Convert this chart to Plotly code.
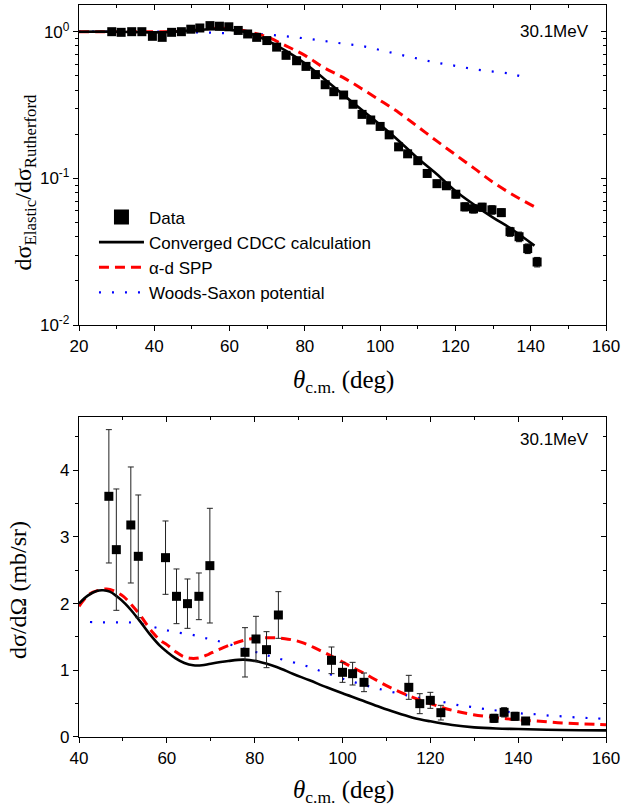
import plotly.graph_objects as go

# ---------------- top panel data ----------------
theta_top = [28.7, 31.2, 34.0, 36.7, 39.5, 42.1, 44.6, 47.2, 49.7, 52.1,
             54.8, 57.3, 59.8, 62.3, 64.8, 67.2, 69.9, 72.5, 75.0, 77.8,
             80.3, 82.8, 85.4, 87.7, 90.3, 92.8, 95.2, 97.5, 100.0, 102.4,
             104.9, 107.3, 110.0, 112.5, 115.1, 117.6, 120.1, 122.5, 124.8, 127.1,
             129.7, 132.2, 134.5, 136.9, 139.2, 141.7]
ratio_top = [1.00, 0.99, 1.00, 1.00, 0.93, 0.915, 0.99, 1.00, 1.04, 1.06,
             1.10, 1.09, 1.08, 1.02, 0.965, 0.915, 0.87, 0.785, 0.69, 0.634,
             0.58, 0.51, 0.435, 0.39, 0.37, 0.32, 0.273, 0.25, 0.226, 0.198,
             0.164, 0.147, 0.132, 0.108, 0.092, 0.089, 0.078, 0.064, 0.062, 0.0636,
             0.061, 0.0584, 0.0433, 0.040, 0.0332, 0.0269]
ratio_top_err = [0.02, 0.02, 0.02, 0.02, 0.02, 0.02, 0.02, 0.02, 0.02, 0.02,
                 0.02, 0.02, 0.02, 0.02, 0.02, 0.02, 0.02, 0.02, 0.02, 0.02,
                 0.017, 0.015, 0.013, 0.012, 0.011, 0.011, 0.01, 0.009, 0.009, 0.008,
                 0.007, 0.007, 0.006, 0.006, 0.005, 0.005, 0.0045, 0.004, 0.004, 0.004,
                 0.004, 0.0035, 0.003, 0.003, 0.0025, 0.002]

curve_top_theta = [20, 30, 40, 45, 50, 55, 60, 65, 70, 75, 80, 85, 90, 95,
                   100, 105, 110, 115, 120, 125, 130, 135, 141]
cdcc_top = [1.0, 1.0, 0.99, 1.0, 1.02, 1.04, 1.03, 0.98, 0.87, 0.74, 0.61, 0.48,
            0.375, 0.295, 0.232, 0.18, 0.137, 0.107, 0.082, 0.066, 0.054, 0.045, 0.0348]
spp_top = [1.0, 1.0, 1.0, 1.0, 1.02, 1.05, 1.05, 1.0, 0.92, 0.80, 0.69, 0.57,
           0.49, 0.41, 0.34, 0.28, 0.225, 0.18, 0.145, 0.117, 0.094, 0.078, 0.064]
ws_top_theta = [20, 30, 40, 45, 50, 55, 60, 65, 70, 75, 80, 85, 90, 95,
                100, 105, 110, 115, 120, 125, 130, 135, 139]
ws_top = [1.0, 1.0, 1.0, 1.0, 0.99, 0.985, 0.975, 0.965, 0.955, 0.93, 0.90, 0.865,
          0.83, 0.80, 0.75, 0.70, 0.655, 0.615, 0.585, 0.555, 0.535, 0.515, 0.48]

# ---------------- bottom panel data ----------------
theta_bot = [46.8, 48.5, 51.8, 53.5, 59.7, 62.2, 64.7, 67.3, 69.8, 77.8,
             80.3, 82.7, 85.4, 97.5, 100.0, 102.3, 104.9, 115.1, 117.6, 120.0,
             122.4, 134.5, 136.8, 139.3, 141.7]
xs_bot = [3.61, 2.81, 3.18, 2.71, 2.69, 2.11, 2.00, 2.11, 2.57, 1.27,
          1.47, 1.31, 1.83, 1.15, 0.97, 0.95, 0.82, 0.745, 0.50, 0.55,
          0.365, 0.28, 0.37, 0.31, 0.24]
xs_bot_err = [1.0, 0.91, 0.87, 0.92, 0.55, 0.41, 0.37, 0.35, 0.86, 0.37,
              0.34, 0.27, 0.35, 0.2, 0.15, 0.17, 0.14, 0.18, 0.15, 0.12,
              0.11, 0.06, 0.07, 0.06, 0.05]

cdcc_bot_theta = [40, 42, 44, 45.5, 47, 48.6, 50.5, 52.4, 54.3, 56.2, 58.4, 60,
                  62, 64, 66, 68, 70, 74, 77.5, 81, 85, 88.8, 92.5, 96.4, 100,
                  104, 108.5, 112, 116, 120, 125, 130, 135, 140, 150, 160]
cdcc_bot = [2.0, 2.12, 2.19, 2.2, 2.18, 2.11, 2.0, 1.86, 1.70, 1.535, 1.37, 1.28,
            1.18, 1.11, 1.075, 1.075, 1.10, 1.14, 1.16, 1.13, 1.05, 0.945, 0.85, 0.745, 0.655,
            0.56, 0.45, 0.37, 0.29, 0.235, 0.18, 0.145, 0.128, 0.12, 0.105, 0.10]
spp_bot_theta = [40, 42.5, 44.5, 46.3, 48, 50.1, 52, 53.9, 55.5, 56.9, 58.5, 60,
                 62, 63.7, 65.5, 67.6, 69.5, 71.4, 75.1, 78.9, 83.1, 86.9, 90.7, 94.5,
                 98.3, 102.1, 105.5, 110, 115, 120.7, 125, 129.8, 135, 139.7, 145,
                 150, 155, 160]
spp_bot = [1.96, 2.15, 2.2, 2.22, 2.19, 2.11, 1.98, 1.83, 1.68, 1.56, 1.45, 1.385,
           1.28, 1.21, 1.18, 1.19, 1.24, 1.30, 1.40, 1.47, 1.49, 1.475, 1.42, 1.31,
           1.185, 1.05, 0.935, 0.77, 0.62, 0.485, 0.40, 0.335, 0.29, 0.26, 0.235,
           0.21, 0.195, 0.185]
ws_bot_theta = [42.5, 45.4, 48.3, 51.2, 53.9, 56.9, 59.4, 62.2, 65.6, 68.3, 71, 74,
                77, 79.7, 82.3, 85, 88.8, 91.5, 94.1, 96.8, 100.2, 102.8, 105.5, 108.1,
                112.3, 117.6, 121, 126.6, 129.4, 132.4, 136, 141.2, 144.2, 147.2, 150,
                152.8, 155.9, 159]
ws_bot = [1.725, 1.72, 1.72, 1.72, 1.70, 1.65, 1.61, 1.57, 1.535, 1.49, 1.45, 1.395,
          1.335, 1.285, 1.235, 1.185, 1.12, 1.07, 1.01, 0.95, 0.87, 0.82, 0.77, 0.725,
          0.66, 0.585, 0.55, 0.475, 0.45, 0.42, 0.39, 0.35, 0.34, 0.32, 0.31,
          0.295, 0.285, 0.275]

top_yticks = [0.01, 0.1, 1]
top_yticktext = ["10<sup>-2</sup>", "10<sup>-1</sup>", "10<sup>0</sup>"]
legend_names = ["Data", "Converged CDCC calculation", "\u03b1-d SPP", "Woods-Saxon potential"]
energy_label = "30.1MeV"

# ---------------- figure ----------------
SANS = "Liberation Sans, Arial, sans-serif"
SERIF = "Liberation Serif, Times New Roman, serif"
RED = "#FF0000"
BLUE = "#0000FF"

black_line = dict(color="black", width=2.6)
red_line = dict(color=RED, width=3, dash="10px,6px")
blue_line = dict(color=BLUE, width=2.2, dash="2px,11px")

fig = go.Figure()

# top panel curves
fig.add_trace(go.Scatter(x=ws_top_theta, y=ws_top, mode="lines", line=blue_line,
                         line_shape="spline", showlegend=False, xaxis="x", yaxis="y"))
fig.add_trace(go.Scatter(x=curve_top_theta, y=spp_top, mode="lines", line=red_line,
                         line_shape="spline", showlegend=False, xaxis="x", yaxis="y"))
fig.add_trace(go.Scatter(x=curve_top_theta, y=cdcc_top, mode="lines", line=black_line,
                         line_shape="spline", showlegend=False, xaxis="x", yaxis="y"))
fig.add_trace(go.Scatter(x=theta_top, y=ratio_top, mode="markers",
                         marker=dict(symbol="square", size=9, color="black"),
                         error_y=dict(type="data", array=ratio_top_err, color="black",
                                      thickness=1, width=3),
                         showlegend=False, xaxis="x", yaxis="y"))

# legend-only entries
fig.add_trace(go.Scatter(x=[None], y=[None], mode="markers", name=legend_names[0],
                         marker=dict(symbol="square", size=15, color="black"),
                         xaxis="x", yaxis="y"))
fig.add_trace(go.Scatter(x=[None], y=[None], mode="lines", name=legend_names[1],
                         line=black_line, xaxis="x", yaxis="y"))
fig.add_trace(go.Scatter(x=[None], y=[None], mode="lines", name=legend_names[2],
                         line=red_line, xaxis="x", yaxis="y"))
fig.add_trace(go.Scatter(x=[None], y=[None], mode="lines", name=legend_names[3],
                         line=blue_line, xaxis="x", yaxis="y"))

# bottom panel curves
fig.add_trace(go.Scatter(x=ws_bot_theta, y=ws_bot, mode="lines", line=blue_line,
                         line_shape="spline", showlegend=False, xaxis="x2", yaxis="y2"))
fig.add_trace(go.Scatter(x=spp_bot_theta, y=spp_bot, mode="lines", line=red_line,
                         line_shape="spline", showlegend=False, xaxis="x2", yaxis="y2"))
fig.add_trace(go.Scatter(x=cdcc_bot_theta, y=cdcc_bot, mode="lines", line=black_line,
                         line_shape="spline", showlegend=False, xaxis="x2", yaxis="y2"))
fig.add_trace(go.Scatter(x=theta_bot, y=xs_bot, mode="markers",
                         marker=dict(symbol="square", size=9, color="black"),
                         error_y=dict(type="data", array=xs_bot_err, color="#222222",
                                      thickness=1, width=3),
                         showlegend=False, xaxis="x2", yaxis="y2"))

# dummy traces so mirrored (inside-tick) axes are drawn
for xa, ya in [("x3", "y"), ("x", "y3"), ("x4", "y2"), ("x2", "y4")]:
    fig.add_trace(go.Scatter(x=[None], y=[None], mode="markers", showlegend=False,
                             hoverinfo="skip", xaxis=xa, yaxis=ya))

TOP_DOM = [0.5628, 1.0]
BOT_DOM = [0.0, 0.4372]
tickfont = dict(family=SANS, size=17, color="black")
minor_log = [m * d for d in [0.01, 0.1, 1] for m in range(2, 10)]

base_ax = dict(showline=True, linecolor="black", linewidth=1.3, showgrid=False,
               zeroline=False, tickcolor="black", tickfont=tickfont)

fig.update_layout(
    width=624, height=809,
    margin=dict(l=79, r=18, t=5, b=72),
    paper_bgcolor="white", plot_bgcolor="white",
    font=dict(family=SANS, size=17, color="black"),
    xaxis=dict(**base_ax, domain=[0, 1], range=[20, 160], anchor="y",
               ticks="outside", ticklen=5, tickwidth=1.2, dtick=20, tick0=20,
               minor=dict(dtick=10, ticks="outside", ticklen=3, tickcolor="black")),
    yaxis=dict(**base_ax, domain=TOP_DOM, type="log", range=[-2, 0.182], anchor="x",
               ticks="outside", ticklen=5, tickwidth=1.2, tickmode="array",
               tickvals=top_yticks, ticktext=top_yticktext,
               minor=dict(tickmode="array", tickvals=minor_log, ticks="outside",
                          ticklen=3, tickcolor="black")),
    xaxis3=dict(showline=True, linecolor="black", linewidth=1.3, showgrid=False,
                zeroline=False, overlaying="x", side="top", anchor="y",
                range=[20, 160], ticks="inside", ticklen=5, tickcolor="black",
                dtick=20, tick0=20, showticklabels=False,
                minor=dict(dtick=10, ticks="inside", ticklen=3, tickcolor="black")),
    yaxis3=dict(showline=True, linecolor="black", linewidth=1.3, showgrid=False,
                zeroline=False, overlaying="y", side="right", anchor="x",
                type="log", range=[-2, 0.182], ticks="inside", ticklen=5,
                tickcolor="black", tickmode="array", tickvals=top_yticks,
                showticklabels=False,
                minor=dict(tickmode="array", tickvals=minor_log, ticks="inside",
                           ticklen=3, tickcolor="black")),
    xaxis2=dict(**base_ax, domain=[0, 1], range=[40, 160], anchor="y2",
                ticks="outside", ticklen=5, tickwidth=1.2, dtick=20, tick0=40,
                minor=dict(dtick=10, ticks="outside", ticklen=3, tickcolor="black")),
    yaxis2=dict(**base_ax, domain=BOT_DOM, range=[0, 4.8], anchor="x2",
                ticks="outside", ticklen=5, tickwidth=1.2, dtick=1, tick0=0,
                minor=dict(dtick=0.5, ticks="outside", ticklen=3, tickcolor="black")),
    xaxis4=dict(showline=True, linecolor="black", linewidth=1.3, showgrid=False,
                zeroline=False, overlaying="x2", side="top", anchor="y2",
                range=[40, 160], ticks="inside", ticklen=5, tickcolor="black",
                dtick=20, tick0=40, showticklabels=False,
                minor=dict(dtick=10, ticks="inside", ticklen=3, tickcolor="black")),
    yaxis4=dict(showline=True, linecolor="black", linewidth=1.3, showgrid=False,
                zeroline=False, overlaying="y2", side="right", anchor="x2",
                range=[0, 4.8], ticks="inside", ticklen=5, tickcolor="black",
                dtick=1, tick0=0, showticklabels=False,
                minor=dict(dtick=0.5, ticks="inside", ticklen=3, tickcolor="black")),
    legend=dict(x=0.0284, y=0.7343, xanchor="left", yanchor="top",
                bgcolor="rgba(0,0,0,0)", borderwidth=0,
                font=dict(family=SANS, size=17, color="black"),
                itemwidth=45, tracegroupgap=0),
    showlegend=True,
)

title_font = dict(family=SERIF, size=25, color="black")
annotations = [
    dict(text="d\u03c3<sub>Elastic</sub>/d\u03c3<sub>Rutherford</sub>", textangle=-90,
         xref="paper", yref="paper", x=-0.1034, y=0.757, showarrow=False,
         font=dict(family=SERIF, size=24, color="black"),
         xanchor="center", yanchor="middle"),
    dict(text="d\u03c3/d\u03a9 (mb/sr)", textangle=-90,
         xref="paper", yref="paper", x=-0.1157, y=0.2008, showarrow=False,
         font=dict(family=SERIF, size=24, color="black"),
         xanchor="center", yanchor="middle"),
    dict(text="<i>\u03b8</i><sub>c.m.</sub> (deg)", xref="paper", yref="paper",
         x=0.502, y=0.4863, showarrow=False, font=title_font,
         xanchor="center", yanchor="middle"),
    dict(text="<i>\u03b8</i><sub>c.m.</sub> (deg)", xref="paper", yref="paper",
         x=0.502, y=-0.0738, showarrow=False, font=title_font,
         xanchor="center", yanchor="middle"),
    dict(text=energy_label, xref="paper", yref="paper", x=(591 - 79) / 527,
         y=(737 - 32) / 732, showarrow=False, xanchor="right", yanchor="middle",
         font=dict(family=SANS, size=17, color="black")),
    dict(text=energy_label, xref="paper", yref="paper", x=(591 - 79) / 527,
         y=(737 - 440) / 732, showarrow=False, xanchor="right", yanchor="middle",
         font=dict(family=SANS, size=17, color="black")),
]
fig.update_layout(annotations=annotations)

fig.write_html(
    "out.html",
    config={"displayModeBar": False},
    post_script="document.body.style.margin='0';document.body.style.padding='0';"
                "document.body.style.overflow='hidden';",
)
